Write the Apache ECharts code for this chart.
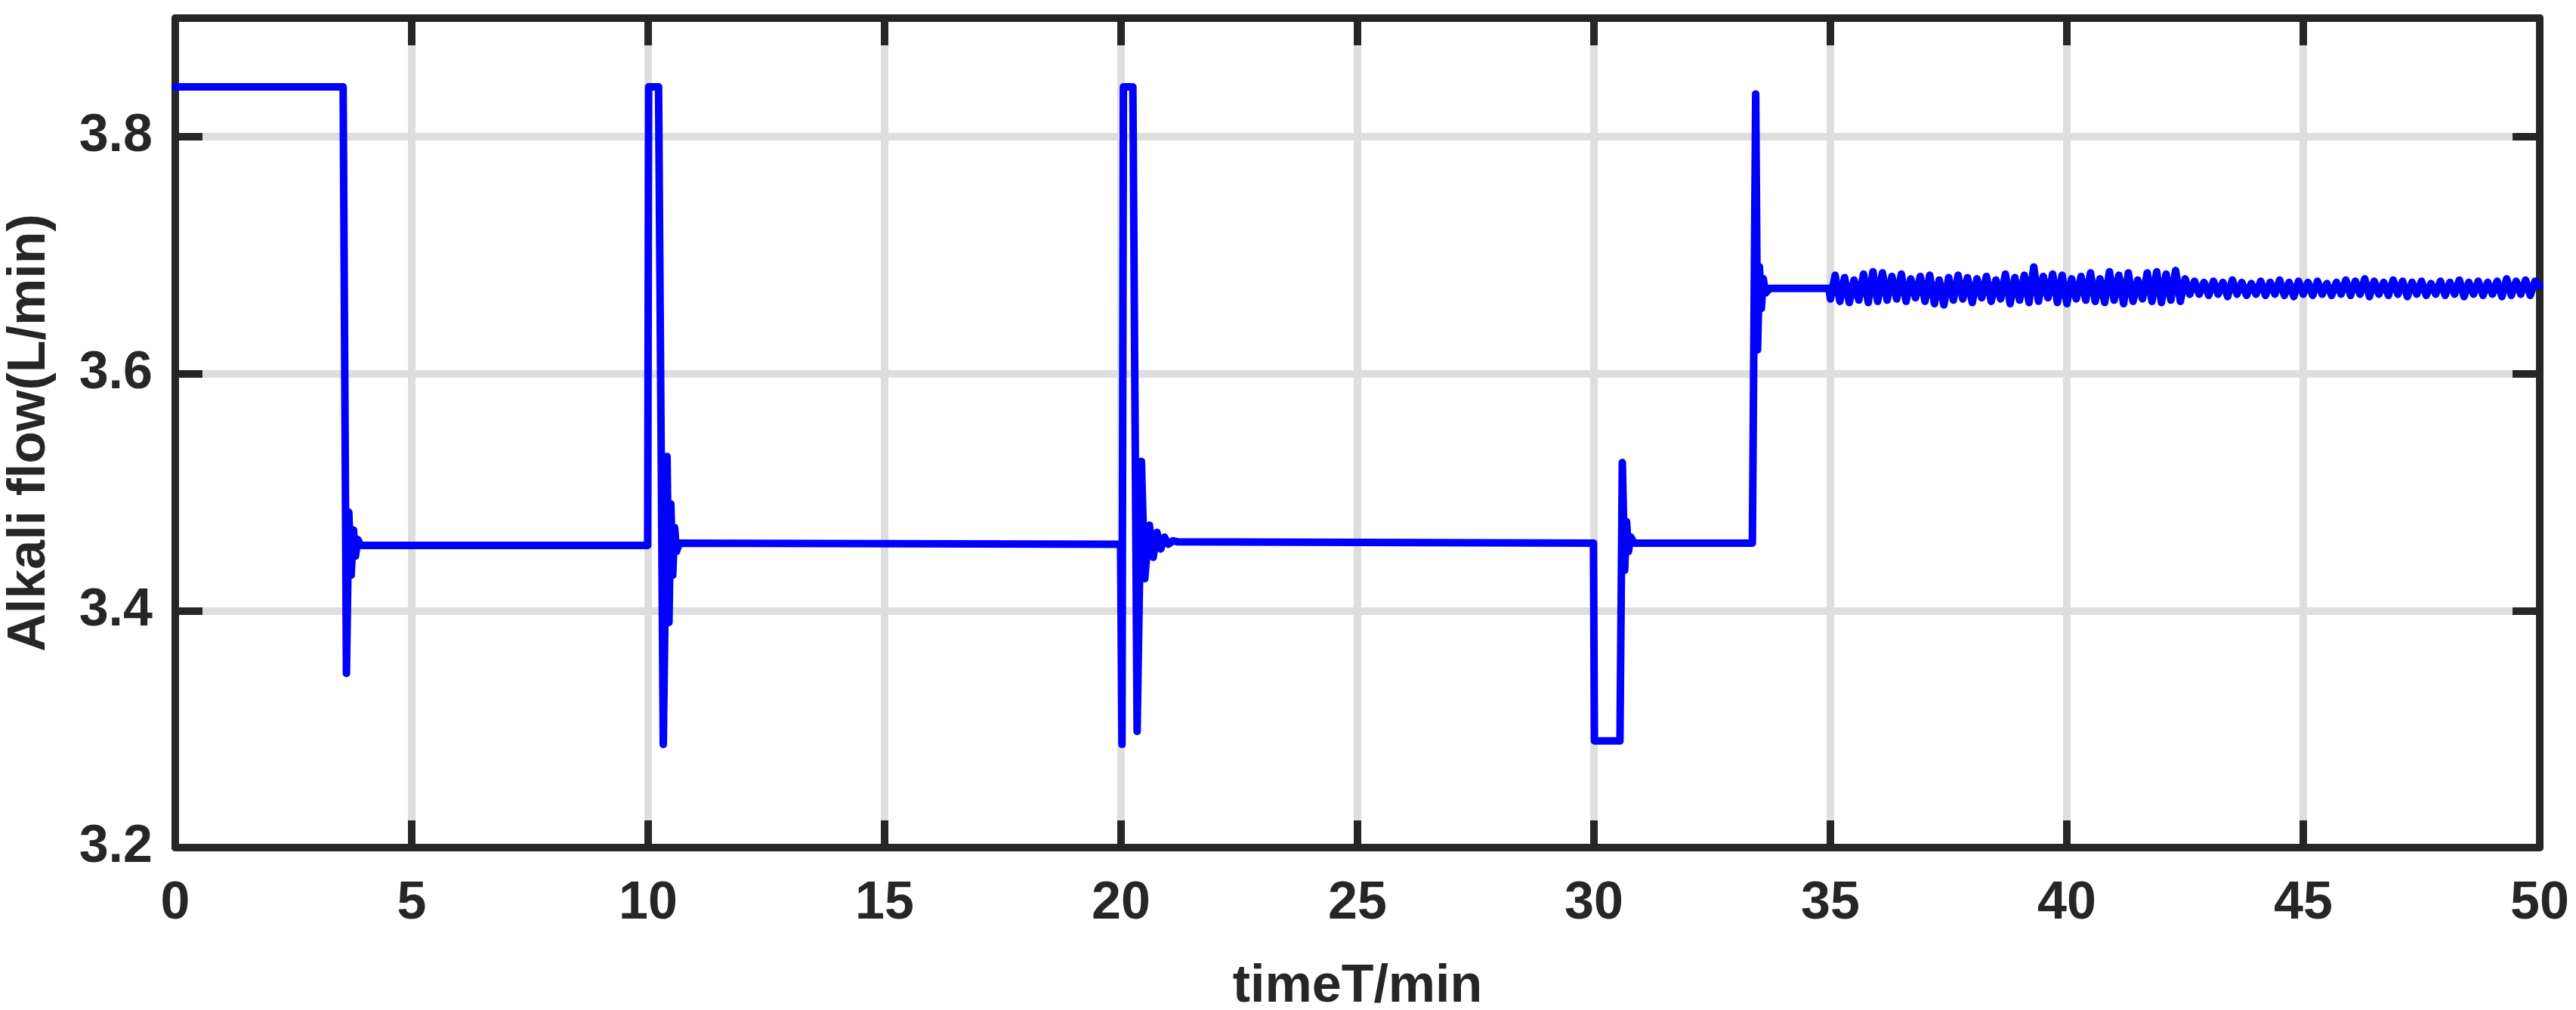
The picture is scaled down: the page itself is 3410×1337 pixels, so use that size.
<!DOCTYPE html>
<html>
<head>
<meta charset="utf-8">
<script src="https://cdn.jsdelivr.net/npm/echarts@6/dist/echarts.min.js"></script>
<style>
html,body{margin:0;padding:0;background:#fff;}
#chart{width:3410px;height:1337px;}
</style>
</head>
<body>
<div id="chart"></div>
<script>
// ---- data ----
const xTicks = [0, 5, 10, 15, 20, 25, 30, 35, 40, 45, 50];
const yTicks = [3.2, 3.4, 3.6, 3.8];

// transient part: time (min) and alkali flow (L/min)
const stepTime = [
  0, 3.55, 3.62, 3.67, 3.72, 3.77, 3.81, 3.86, 3.92,
  9.99, 10.01, 10.22, 10.32, 10.40, 10.44, 10.48, 10.52, 10.56, 10.60, 10.66,
  19.99, 20.02, 20.05, 20.25, 20.34, 20.43, 20.50, 20.60, 20.68, 20.76, 20.84, 20.92, 21.00, 21.10, 21.20,
  29.99, 30.01, 30.55, 30.60, 30.65, 30.69, 30.73, 30.78, 30.85,
  33.35, 33.42, 33.46, 33.50, 33.54, 33.58, 33.63, 33.72, 34.97
];
const stepFlow = [
  3.842, 3.842, 3.347, 3.483, 3.430, 3.468, 3.446, 3.460, 3.455,
  3.455, 3.842, 3.842, 3.287, 3.530, 3.390, 3.490, 3.430, 3.470, 3.450, 3.457,
  3.456, 3.287, 3.842, 3.842, 3.298, 3.526, 3.427, 3.472, 3.445, 3.466, 3.452, 3.462, 3.456, 3.459, 3.458,
  3.457, 3.290, 3.290, 3.525, 3.434, 3.475, 3.450, 3.462, 3.457,
  3.457, 3.836, 3.620, 3.690, 3.655, 3.680, 3.668, 3.672, 3.672
];

// noisy steady state, sampled every 0.1 min
const sampleStep = 0.1;
const noiseStartA = 35.0;
const noiseFlowA = [
  3.663, 3.683, 3.661, 3.681, 3.660, 3.679, 3.662, 3.684, 3.660, 3.686,
  3.661, 3.685, 3.662, 3.682, 3.663, 3.684, 3.661, 3.680, 3.664, 3.682,
  3.661, 3.683, 3.659, 3.679, 3.658, 3.681, 3.662, 3.683, 3.663, 3.681,
  3.660, 3.680, 3.664, 3.682, 3.661, 3.679, 3.663, 3.684, 3.659, 3.681,
  3.662, 3.683, 3.660, 3.690, 3.661, 3.682, 3.664, 3.684, 3.660, 3.683,
  3.659, 3.680, 3.663, 3.682, 3.662, 3.685, 3.661, 3.680, 3.660, 3.686,
  3.662, 3.683, 3.659, 3.685, 3.661, 3.679, 3.663, 3.685, 3.661, 3.686,
  3.660, 3.684, 3.662, 3.687, 3.661, 3.680
];
const noiseStartB = 42.6;
const noiseFlowB = [
  3.667, 3.678, 3.667, 3.677, 3.666, 3.678, 3.667, 3.677, 3.665, 3.679,
  3.667, 3.677, 3.666, 3.676, 3.667, 3.678, 3.666, 3.677, 3.667, 3.679,
  3.666, 3.677, 3.665, 3.678, 3.667, 3.677, 3.666, 3.678, 3.667, 3.676,
  3.666, 3.677, 3.667, 3.679, 3.666, 3.678, 3.667, 3.680, 3.665, 3.678,
  3.667, 3.677, 3.666, 3.679, 3.667, 3.678, 3.665, 3.677, 3.667, 3.678,
  3.666, 3.676, 3.667, 3.678, 3.666, 3.677, 3.667, 3.679, 3.665, 3.677,
  3.667, 3.678, 3.666, 3.677, 3.667, 3.678, 3.665, 3.680, 3.666, 3.678,
  3.667, 3.679, 3.666, 3.678, 3.674
];

// ---- build series data ----
const seriesData = stepTime.map((t, i) => [t, stepFlow[i]])
  .concat(noiseFlowA.map((v, i) => [+(noiseStartA + i * sampleStep).toFixed(2), v]))
  .concat(noiseFlowB.map((v, i) => [+(noiseStartB + i * sampleStep).toFixed(2), v]));

const FONT = "'Liberation Sans', Arial, Helvetica, sans-serif";
const AX = '#262626';
const GRIDC = '#dedede';

const chart = echarts.init(document.getElementById('chart'), null, {renderer: 'canvas'});

const baseX = {
  type: 'value', min: xTicks[0], max: xTicks[xTicks.length - 1], interval: 5,
  axisLine: {show: true, onZero: false, lineStyle: {color: AX, width: 10}},
  axisTick: {show: true, inside: true, length: 36, lineStyle: {color: AX, width: 10}}
};
const baseY = {
  type: 'value', min: yTicks[0], max: 3.9, interval: 0.2,
  axisLine: {show: true, onZero: false, lineStyle: {color: AX, width: 10}},
  axisTick: {show: true, inside: true, length: 36, lineStyle: {color: AX, width: 10}}
};

chart.setOption({
  animation: false,
  backgroundColor: '#ffffff',
  grid: {left: 232, right: 48, top: 24, bottom: 215, containLabel: false, outerBoundsMode: 'none'},
  xAxis: [
    Object.assign({}, baseX, {
      position: 'bottom',
      name: 'timeT/min', nameLocation: 'middle', nameGap: 150,
      nameTextStyle: {color: AX, fontFamily: FONT, fontWeight: 'bold', fontSize: 70},
      axisLabel: {show: true, color: AX, fontFamily: FONT, fontWeight: 'bold', fontSize: 70, margin: 40},
      splitLine: {show: true, lineStyle: {color: GRIDC, width: 10}}
    }),
    Object.assign({}, baseX, {
      position: 'top', axisLabel: {show: false}, splitLine: {show: false}
    })
  ],
  yAxis: [
    Object.assign({}, baseY, {
      position: 'left',
      name: 'Alkali flow(L/min)', nameLocation: 'middle', nameGap: 157, nameRotate: 90,
      nameTextStyle: {color: AX, fontFamily: FONT, fontWeight: 'bold', fontSize: 70},
      axisLabel: {show: true, showMaxLabel: false, color: AX, fontFamily: FONT, fontWeight: 'bold', fontSize: 70, margin: 30,
        formatter: v => v.toFixed(1)},
      splitLine: {show: true, lineStyle: {color: GRIDC, width: 10}}
    }),
    Object.assign({}, baseY, {
      position: 'right', axisLabel: {show: false}, splitLine: {show: false}
    })
  ],
  series: [{
    type: 'line',
    xAxisIndex: 0, yAxisIndex: 0,
    data: seriesData,
    showSymbol: false,
    symbol: 'none',
    lineStyle: {color: '#0000ff', width: 10, join: 'round', cap: 'round'},
    z: 3
  }]
});
</script>
</body>
</html>
